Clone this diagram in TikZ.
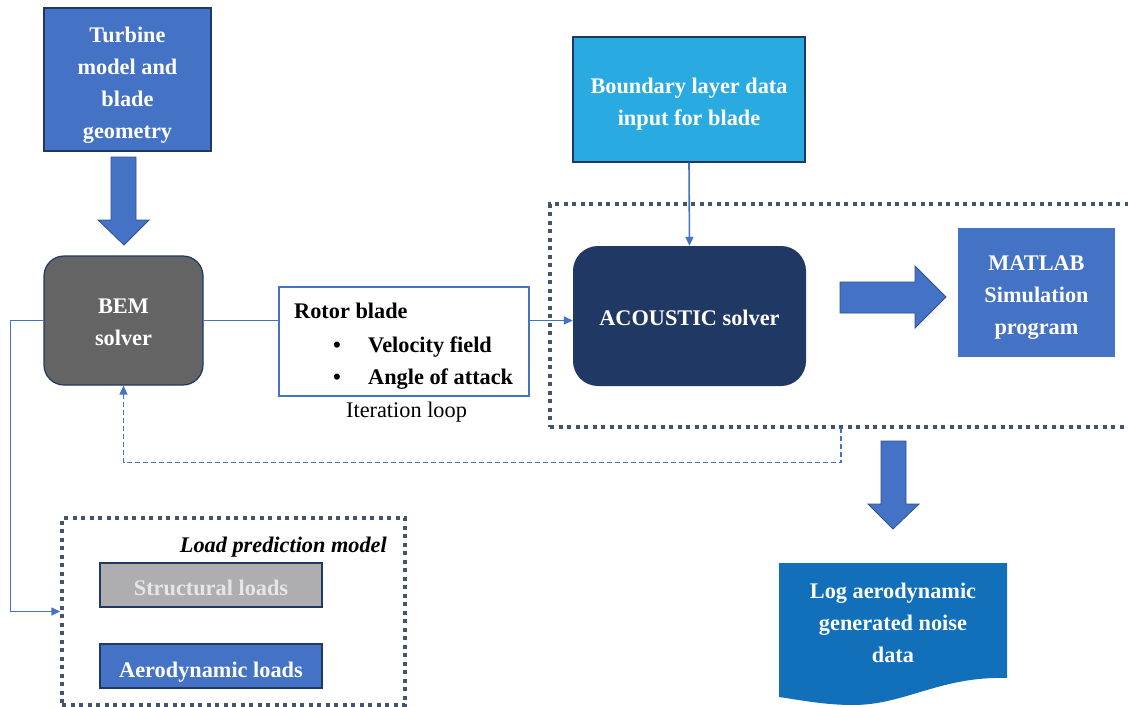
\documentclass[tikz,border=0pt]{standalone}
\usepackage{fontspec}
\setmainfont{Liberation Serif}
\usetikzlibrary{arrows.meta}
\definecolor{mainblue}{HTML}{4472C4}
\definecolor{navy}{HTML}{1F3864}
\definecolor{bemgray}{HTML}{646464}
\definecolor{skyblue}{HTML}{29ABE2}
\definecolor{logblue}{HTML}{1170B9}
\definecolor{slate}{HTML}{44546A}
\definecolor{structgray}{HTML}{AEAEB0}
\definecolor{structtext}{HTML}{E7E6E6}
\definecolor{fatborder}{HTML}{2F528F}
\newcommand\lowered[2]{\raisebox{0pt}[\dimexpr\height+2\dimexpr#1\relax\relax][\depth]{\begin{tabular}{@{}c@{}}#2\end{tabular}}}
\tikzset{
  lbl/.style={font=\bfseries\fontsize{22.3}{32}\selectfont, text=white, align=center},
  txt/.style={font=\bfseries\fontsize{22.3}{32}\selectfont, text=black, inner sep=0pt},
  box/.style={draw=navy, line width=1.2pt, inner sep=0pt},
  conn/.style={draw=mainblue, line width=1.6pt},
  tip/.style={-{Triangle[length=9pt,width=8pt]}},
  fbdash/.style={dash pattern=on 5pt off 3pt},
  dotbox/.style={draw=slate, line width=3.5pt, dash pattern=on 4pt off 4.5pt, inner sep=0pt},
  fat/.style={fill=mainblue, draw=fatborder, line width=0.8pt},
}
\begin{document}
\begin{tikzpicture}[x=1pt,y=-1pt]
\clip (0,0) rectangle (1128,707);
\fill[white] (0,0) rectangle (1128,707);

% dotted group boxes
\node[dotbox, minimum width=590pt, minimum height=223pt] (acbox) at (845,315.5) {};
\node[dotbox, minimum width=343pt, minimum height=187pt] (loadbox) at (233.5,611.5) {};

% main nodes
\node[box, fill=mainblue, lbl, minimum width=167pt, minimum height=143pt] (turbine) at (127.5,79.5) {\lowered{5pt}{Turbine\\model and\\blade\\geometry}};
\node[box, rounded corners=20pt, fill=bemgray, lbl, minimum width=159pt, minimum height=129pt] (bem) at (123.5,320.5) {\lowered{3pt}{BEM\\solver}};
\node[draw=mainblue, line width=1.3pt, minimum width=250pt, minimum height=109pt, inner sep=0pt] (rotor) at (404,341.5) {};
\node[txt, anchor=base west] (rotort) at (294,318) {Rotor blade};
\node[txt, anchor=base] (b1) at (337,352) {\textbullet};
\node[txt, anchor=base west] (vel) at (368,352) {Velocity field};
\node[txt, anchor=base] (b2) at (337,384) {\textbullet};
\node[txt, anchor=base west] (aoa) at (368,384) {Angle of attack};
\node[txt, font=\fontsize{22.3}{32}\selectfont, anchor=base] (iter) at (406.5,417) {Iteration loop};

\node[box, fill=skyblue, lbl, minimum width=232pt, minimum height=125pt] (boundary) at (689,99.5) {\lowered{4pt}{Boundary layer data\\input for blade}};
\node[fill=navy, rounded corners=25pt, lbl, minimum width=233pt, minimum height=140pt, inner sep=0pt] (acoustic) at (689.5,316) {\lowered{3.5pt}{ACOUSTIC solver}};
\node[fill=mainblue, lbl, minimum width=157pt, minimum height=129pt, inner sep=0pt] (matlab) at (1036.5,292.5) {\lowered{3.5pt}{MATLAB\\Simulation\\program}};

\node[txt, font=\bfseries\itshape\fontsize{22.3}{32}\selectfont, anchor=base east] (loadt) at (387,552) {Load prediction model};
\node[box, line width=1.5pt, fill=structgray, lbl, text=structtext, minimum width=222pt, minimum height=44pt] (struct) at (211,585) {\lowered{4pt}{Structural loads}};
\node[box, line width=1.5pt, fill=mainblue, lbl, minimum width=222pt, minimum height=44pt] (aero) at (211,666) {\lowered{5.5pt}{Aerodynamic loads}};

% log document shape
\fill[logblue] (779,563) -- (1007,563) -- (1007,678)
  .. controls (940,676) and (905,705) .. (853,705)
  .. controls (825,705) and (800,700) .. (779,697) -- cycle;
\node[lbl] (logt) at (893,622) {\lowered{2pt}{Log aerodynamic\\generated noise\\data}};

% fat arrows
\path[fat] (111,157) -- (136,157) -- (136,220) -- (149,220) -- (124,245) -- (98,220) -- (111,220) -- cycle;
\path[fat] (840,282) -- (915,282) -- (915,266) -- (946,297) -- (915,328) -- (915,313) -- (840,313) -- cycle;
\path[fat] (881,441) -- (906,441) -- (906,504) -- (919,504) -- (893,529) -- (868,504) -- (881,504) -- cycle;

% connectors
\draw[conn] (bem.east) -- (bem.east -| rotor.west);
\draw[conn, tip] (bem.east -| rotor.east) -- (bem.east -| acoustic.west);
\draw[conn, tip] (boundary.south) -- (acoustic.north);
\coordinate (fbstart) at (841,427.5);
\draw[conn, fbdash, tip] (fbstart) -- ++(0,35) -| (bem.south);
\draw[conn, tip] (bem.west) -- ++(-33,0) |- (loadbox.west);
\end{tikzpicture}
\end{document}
